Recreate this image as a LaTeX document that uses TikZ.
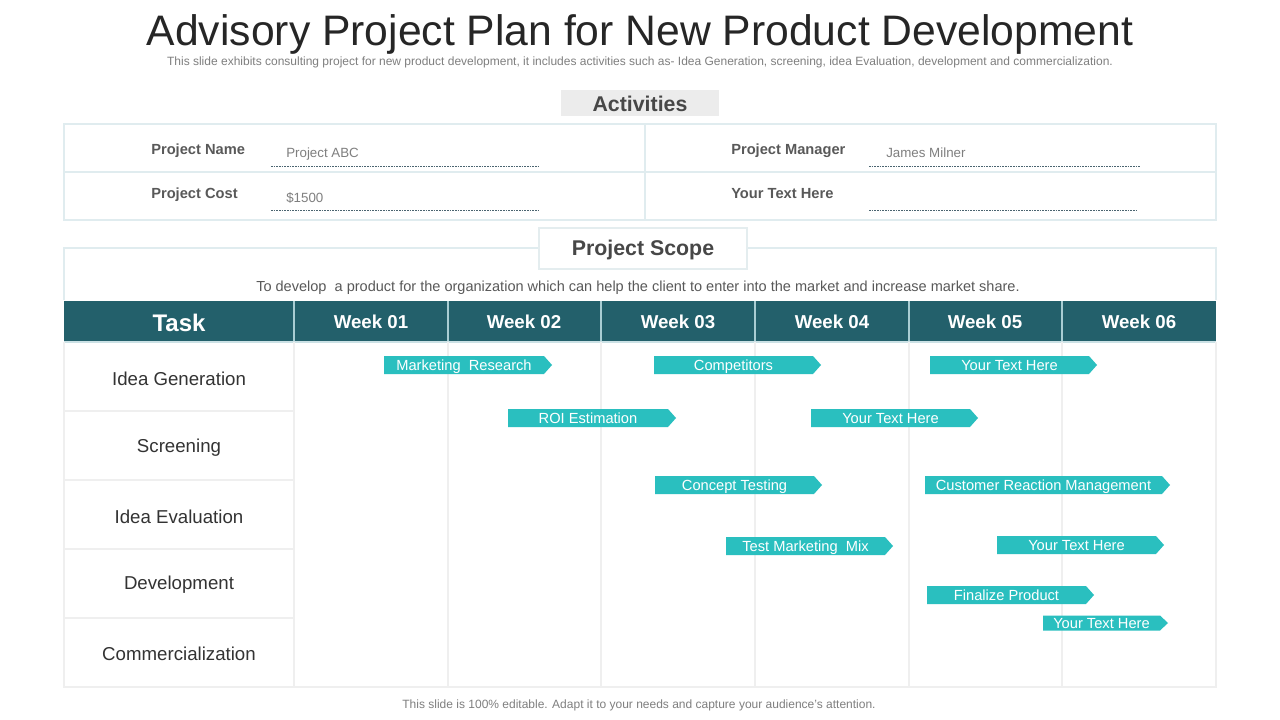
\documentclass[tikz,border=0pt]{standalone}
\usepackage{fontspec}
\setmainfont{Liberation Sans}

\definecolor{titlegray}{HTML}{262626}
\definecolor{subgray}{HTML}{7F7F7F}
\definecolor{namegray}{HTML}{595959}
\definecolor{activgray}{HTML}{ECECEC}
\definecolor{tableblue}{HTML}{E0ECEF}
\definecolor{dashgray}{HTML}{4A6470}
\definecolor{headteal}{HTML}{23606B}
\definecolor{headsep}{HTML}{A9CDD3}
\definecolor{gridgray}{HTML}{EFEFEF}
\definecolor{barteal}{HTML}{2ABFBF}
\definecolor{rowtext}{HTML}{333333}

\tikzset{
  titletext/.style={text=titlegray, font=\fontsize{32}{36}\selectfont},
  subtext/.style={text=subgray, font=\fontsize{9}{10}\selectfont},
  boxtext/.style={text=namegray!80!black, font=\bfseries\fontsize{16}{18}\selectfont},
  fieldname/.style={anchor=west, inner sep=0pt, text=namegray, font=\bfseries\fontsize{11}{13}\selectfont},
  fieldvalue/.style={anchor=west, inner sep=0pt, text=subgray, font=\fontsize{10}{12}\selectfont},
  fieldline/.style={draw=dashgray, dash pattern=on 1.2pt off 0.8pt, line width=0.5pt},
  tableline/.style={draw=tableblue, line width=0.8pt},
  gridline/.style={draw=gridgray, line width=0.8pt},
  weektext/.style={text=white, font=\bfseries\fontsize{14}{16}\selectfont},
  tasktext/.style={text=rowtext, font=\fontsize{14}{16}\selectfont},
  barfill/.style={fill=barteal, draw=none},
  bartext/.style={anchor=base, text=white, inner sep=0pt, font=\fontsize{11}{13}\selectfont},
}

% bar: name, left x, tip x, centre y, half height, text
\newcommand{\ganttbar}[6]{%
  \filldraw[barfill] (#2,#4-#5) -- (#3-8,#4-#5) -- (#3,#4) -- (#3-8,#4+#5) -- (#2,#4+#5) -- cycle;
  \node[bartext] (#1) at ({(#2+#3-8)/2},#4+5) {#6};
}

\begin{document}
\begin{tikzpicture}[x=0.75pt,y=-0.75pt]
\useasboundingbox[fill=white] (0,0) rectangle (1280,720);

% title:
\node[titletext] (title) at (640,34) {Advisory Project Plan for New Product Development};
\node[subtext] (subtitle) at (640,62) {This slide exhibits consulting project for new product development, it includes activities such as- Idea Generation, screening, idea Evaluation, development and commercialization.};

% activities:
\filldraw[fill=activgray, draw=none] (561,90) rectangle (719,116);
\node[boxtext] (activities) at (640,104) {Activities};
\draw[tableline] (64,124) rectangle (1216,220);
\draw[tableline] (64,172) -- (1216,172);
\draw[tableline] (645,124) -- (645,220);
\node[fieldname] (pname) at (151,151) {Project Name};
\node[fieldname] (pcost) at (151,195) {Project Cost};
\node[fieldname] (pmanager) at (731,151) {Project Manager};
\node[fieldname] (pother) at (731,194) {Your Text Here};
\node[fieldvalue] (vname) at (286,154) {Project ABC};
\node[fieldvalue] (vcost) at (286,198) {\$1500};
\node[fieldvalue] (vmanager) at (886,153) {James Milner};
\draw[fieldline] (271,166) -- (539,166);
\draw[fieldline] (271,210) -- (539,210);
\draw[fieldline] (869,166) -- (1140,166);
\draw[fieldline] (869,210) -- (1136,210);

% project scope:
\draw[tableline] (64,300) -- (64,248) -- (1216,248) -- (1216,300);
\filldraw[fill=white, draw=tableblue!70!gridgray, line width=0.8pt] (539,228) rectangle (747,269);
\node[boxtext] (scope) at (643,250) {Project Scope};
\node[text=namegray, font=\fontsize{10.9}{12}\selectfont] (scopetext) at (638,288) {To develop \ a product for the organization which can help the client to enter into the market and increase market share.};

% header row:
\filldraw[fill=headteal, draw=none] (64,301) rectangle (1216,342);
\draw[headsep, line width=0.8pt] (294,301) -- (294,342);
\draw[headsep, line width=0.8pt] (448,301) -- (448,342);
\draw[headsep, line width=0.8pt] (601,301) -- (601,342);
\draw[headsep, line width=0.8pt] (755,301) -- (755,342);
\draw[headsep, line width=0.8pt] (909,301) -- (909,342);
\draw[headsep, line width=0.8pt] (1062,301) -- (1062,342);
\draw[draw=headsep!60!white, line width=1pt] (64,342) -- (1216,342);
\node[text=white, font=\bfseries\fontsize{18}{20}\selectfont] (task) at (179,323) {Task};
\node[weektext] (week1) at (371,322) {Week 01};
\node[weektext] (week2) at (524,322) {Week 02};
\node[weektext] (week3) at (678,322) {Week 03};
\node[weektext] (week4) at (832,322) {Week 04};
\node[weektext] (week5) at (985,322) {Week 05};
\node[weektext] (week6) at (1139,322) {Week 06};

% grid:
\draw[gridline] (64,342) -- (64,687) -- (1216,687) -- (1216,342);
\draw[gridline] (294,342) -- (294,687);
\draw[gridline] (448,342) -- (448,687);
\draw[gridline] (601,342) -- (601,687);
\draw[gridline] (755,342) -- (755,687);
\draw[gridline] (909,342) -- (909,687);
\draw[gridline] (1062,342) -- (1062,687);
\draw[gridline] (64,411) -- (294,411);
\draw[gridline] (64,480) -- (294,480);
\draw[gridline] (64,549) -- (294,549);
\draw[gridline] (64,618) -- (294,618);

% tasks:
\node[tasktext] (ideagen) at (179,379) {Idea Generation};
\node[tasktext] (screening) at (179,448) {Screening};
\node[tasktext] (ideaeval) at (179,517) {Idea Evaluation};
\node[tasktext] (development) at (179,585) {Development};
\node[tasktext] (commercial) at (179,654) {Commercialization};

% bars:
\ganttbar{research}{384}{552}{365}{9}{Marketing \ Research}
\ganttbar{competitors}{654}{821}{365}{9}{Competitors}
\ganttbar{textone}{930}{1097}{365}{9}{Your Text Here}
\ganttbar{roi}{508}{676}{418}{9}{ROI Estimation}
\ganttbar{texttwo}{811}{978}{418}{9}{Your Text Here}
\ganttbar{concept}{655}{822}{485}{9}{Concept Testing}
\ganttbar{reaction}{925}{1170}{485}{9}{Customer Reaction Management}
\ganttbar{mix}{726}{893}{546}{9}{Test Marketing \ Mix}
\ganttbar{textthree}{997}{1164}{545}{9}{Your Text Here}
\ganttbar{finalize}{927}{1094}{595}{9}{Finalize Product}
\ganttbar{textfour}{1043}{1168}{623}{7.5}{Your Text Here}

% footer:
\node[subtext] (footer) at (639,705) {This slide is 100\% editable. Adapt it to your needs and capture your audience's attention.};

\end{tikzpicture}
\end{document}
